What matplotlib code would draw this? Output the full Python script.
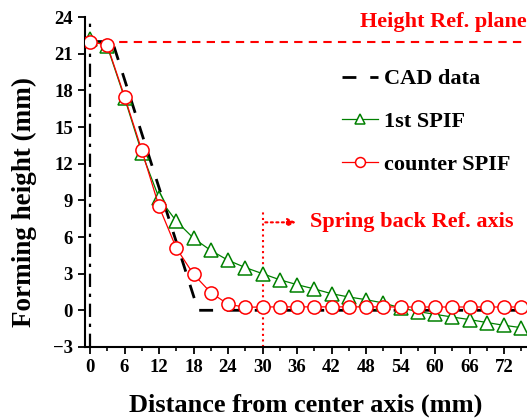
import matplotlib.pyplot as plt
import numpy as np

plt.rcParams['font.family'] = ['Liberation Serif', 'DejaVu Serif']
plt.rcParams['font.weight'] = 'bold'

# Data
x_spif = [0, 3, 6, 9, 12, 15, 18, 21, 24, 27, 30, 33, 36, 39, 42, 45, 48,
          51, 54, 57, 60, 63, 66, 69, 72, 75]
first_spif = [22.2, 21.6, 17.4, 12.9, 9.2, 7.3, 5.9, 4.9, 4.1, 3.5, 3.0, 2.5,
              2.1, 1.75, 1.36, 1.09, 0.87, 0.6, 0.2, -0.1, -0.33, -0.55,
              -0.76, -1.0, -1.23, -1.42]
counter_spif = [22.0, 21.7, 17.5, 13.1, 8.5, 5.1, 2.95, 1.45, 0.5, 0.25, 0.27,
                0.28, 0.28, 0.28, 0.28, 0.28, 0.28, 0.28, 0.27, 0.27, 0.27,
                0.27, 0.27, 0.27, 0.27, 0.27]
x_cad = [0, 3.9, 18.8, 74.5]
y_cad = [22, 22, 0, 0]
height_ref = 22
spring_ref = 30

fig = plt.figure(figsize=(5.27, 4.18), dpi=100)
ax = fig.add_axes([0.161, 0.170, 0.839, 0.789])

ax.axvline(0, color='black', ls=(0, (6, 3, 1.5, 3)), lw=1.6, zorder=1)
ax.axhline(height_ref, xmin=0.012, color='red', ls=(0, (4, 3)), lw=1.5, zorder=1)

ax.plot(x_cad, y_cad, color='black', ls=(0, (5, 5)), lw=2.0, label='CAD data', zorder=2)
ax.plot(x_spif, first_spif, color='green', lw=0.9, marker='^', ms=9.5,
        mfc='white', mec='green', mew=1.1, label='1st SPIF', zorder=3)
ax.plot(x_spif, counter_spif, color='red', lw=0.9, marker='o', ms=9.5,
        mfc='white', mec='red', mew=1.1, label='counter SPIF', zorder=4)

# spring back reference axis
ax.plot([spring_ref, spring_ref], [-3, 8.2], color='red', ls=':', lw=1.5, zorder=1)
ax.annotate('', xy=(36.3, 7.2), xytext=(spring_ref, 7.2),
            arrowprops=dict(arrowstyle='-|>', color='red', ls=':', lw=1.5,
                            mutation_scale=12))
ax.text(38.2, 7.2, 'Spring back Ref. axis', color='red', fontsize=16,
        fontweight='bold', va='center', ha='left')
ax.text(47.0, 23.6, 'Height Ref. plane', color='red', fontsize=16,
        fontweight='bold', va='center', ha='left')

ax.set_xlim(-0.9, 76)
ax.set_ylim(-3, 24)
ax.set_xticks(np.arange(0, 76, 6))
ax.set_xticks(np.arange(0, 76, 3), minor=True)
ax.set_yticks(np.arange(-3, 25, 3))
ax.tick_params(axis='both', which='major', direction='out', length=5, width=1.3,
               labelsize=13.5)
ax.tick_params(axis='x', which='minor', direction='out', length=3, width=1.2)
for lab in ax.get_xticklabels() + ax.get_yticklabels():
    lab.set_fontweight('bold')

ax.spines['top'].set_visible(False)
ax.spines['right'].set_visible(False)
ax.spines['left'].set_linewidth(1.5)
ax.spines['bottom'].set_linewidth(1.5)

ax.set_xlabel('Distance from center axis (mm)', fontsize=19, fontweight='bold',
              labelpad=13)
ax.set_ylabel('Forming height (mm)', fontsize=19.5, fontweight='bold')
ax.yaxis.set_label_coords(-0.109, 0.439)

ax.legend(loc='upper left', bbox_to_anchor=(0.557, 0.877), frameon=False,
          handlelength=1.6, labelspacing=1.0, handletextpad=0.3, borderpad=0,
          markerscale=0.75, prop={'weight': 'bold', 'size': 16})

fig.savefig('out.png', dpi=100)
